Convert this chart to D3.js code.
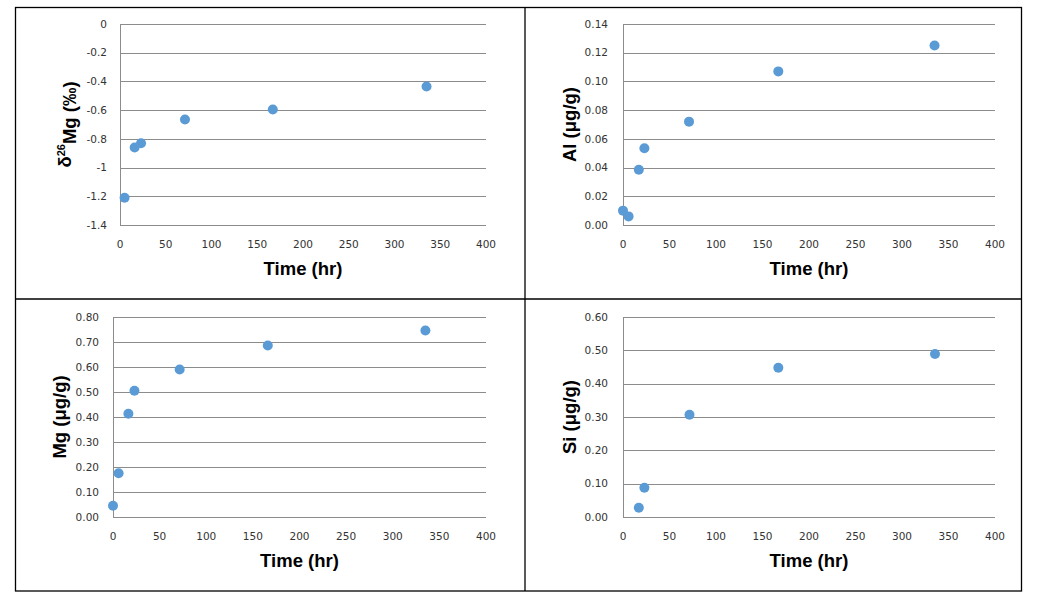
<!DOCTYPE html>
<html><head><meta charset="utf-8">
<script src="https://cdn.jsdelivr.net/npm/d3@7"></script>
<style>body{margin:0;background:#fff;}svg{display:block;}</style>
</head><body>
<svg id="c" width="1054" height="606"></svg>
<script>
// Data
const timeMgIso = [5, 16, 23, 71, 167, 335];
const d26Mg = [-1.21, -0.86, -0.83, -0.665, -0.595, -0.435];
const timeAl = [0, 6, 17, 23, 71, 167, 335];
const al = [0.010, 0.006, 0.0385, 0.0535, 0.072, 0.107, 0.125];
const timeMg = [0, 6, 16.5, 23, 71.5, 166, 335];
const mg = [0.045, 0.175, 0.413, 0.505, 0.59, 0.686, 0.746];
const timeSi = [17, 23, 71.5, 167, 335.5];
const si = [0.028, 0.088, 0.307, 0.448, 0.489];
const xTicks = [0, 50, 100, 150, 200, 250, 300, 350, 400];
const ticksD = [0, -0.2, -0.4, -0.6, -0.8, -1, -1.2, -1.4];
const ticksAl = [0, 0.02, 0.04, 0.06, 0.08, 0.10, 0.12, 0.14];
const ticksMg = [0, 0.1, 0.2, 0.3, 0.4, 0.5, 0.6, 0.7, 0.8];
const ticksSi = [0, 0.1, 0.2, 0.3, 0.4, 0.5, 0.6];

const svg = d3.select("#c");
// frame
const fr = svg.append("g").attr("fill","none").attr("stroke","#000").attr("stroke-width",1.3);
fr.append("rect").attr("x",15.5).attr("y",7.5).attr("width",1006).attr("height",583.5);
fr.append("line").attr("x1",525).attr("x2",525).attr("y1",7.5).attr("y2",591);
fr.append("line").attr("x1",15.5).attr("x2",1021.5).attr("y1",299).attr("y2",299);

const panels = [
  {x0:120, x1:486, y0:24, y1:225, t:timeMgIso, v:d26Mg, dom:[-1.4,0], ticks:ticksD, fmt:d=>d===0?"0":String(d), title:"δ26Mg (‰)", iso:true, tx:65, tickGap:13},
  {x0:623, x1:995, y0:24, y1:225, t:timeAl, v:al, dom:[0,0.14], ticks:ticksAl, fmt:d3.format(".2f"), title:"Al (μg/g)", tx:570, tickGap:15},
  {x0:113, x1:486, y0:317, y1:517, t:timeMg, v:mg, dom:[0,0.8], ticks:ticksMg, fmt:d3.format(".2f"), title:"Mg (μg/g)", tx:60, tickGap:14},
  {x0:623, x1:995, y0:317, y1:517, t:timeSi, v:si, dom:[0,0.6], ticks:ticksSi, fmt:d3.format(".2f"), title:"Si (μg/g)", tx:570, tickGap:15}
];

panels.forEach(p => {
  const x = d3.scaleLinear().domain([0,400]).range([p.x0,p.x1]);
  const y = d3.scaleLinear().domain(p.dom).range([p.y1,p.y0]);
  const g = svg.append("g");
  // gridlines
  g.selectAll("line.grid").data(p.ticks).enter().append("line")
    .attr("x1",p.x0).attr("x2",p.x1)
    .attr("y1",d=>Math.round(y(d))+0.5).attr("y2",d=>Math.round(y(d))+0.5)
    .attr("stroke","#8c8c8c").attr("stroke-width",1);
  // left axis line
  g.append("line").attr("x1",p.x0+0.5).attr("x2",p.x0+0.5).attr("y1",p.y0).attr("y2",p.y1+0.5)
    .attr("stroke","#8c8c8c").attr("stroke-width",1);
  // y tick labels
  g.selectAll("text.yt").data(p.ticks).enter().append("text")
    .attr("x",p.x0-p.tickGap).attr("y",d=>y(d)).attr("dy","0.35em")
    .attr("text-anchor","end").attr("font-family","DejaVu Sans").attr("font-size",10.5).attr("fill","#333")
    .text(p.fmt);
  // x tick labels
  g.selectAll("text.xt").data(xTicks).enter().append("text")
    .attr("x",d=>x(d)).attr("y",p.y1+19).attr("dy","0.35em")
    .attr("text-anchor","middle").attr("font-family","DejaVu Sans").attr("font-size",10.5).attr("fill","#333")
    .text(d=>d);
  // x title
  g.append("text").attr("x",(p.x0+p.x1)/2).attr("y",p.y1+50)
    .attr("text-anchor","middle").attr("font-family","Liberation Sans, Arial").attr("font-weight","bold")
    .attr("font-size",18.5).attr("fill","#000").text("Time (hr)");
  // y title
  const ty = g.append("text").attr("transform",`translate(${p.tx},${(p.y0+p.y1)/2}) rotate(-90)`)
    .attr("text-anchor","middle").attr("dy","0.35em").attr("font-family","Liberation Sans, Arial").attr("font-weight","bold")
    .attr("font-size",18.5).attr("fill","#000");
  if (p.iso) {
    ty.append("tspan").text("δ");
    ty.append("tspan").attr("font-size",11).attr("dy","-0.6em").text("26");
    ty.append("tspan").attr("dy","0.6em").text("Mg (‰)");
  } else {
    ty.text(p.title);
  }
  // points
  g.selectAll("circle").data(p.t.map((t,i)=>[t,p.v[i]])).enter().append("circle")
    .attr("cx",d=>x(d[0])).attr("cy",d=>y(d[1])).attr("r",5)
    .attr("fill","#5b9bd5");
});
</script>
</body></html>
